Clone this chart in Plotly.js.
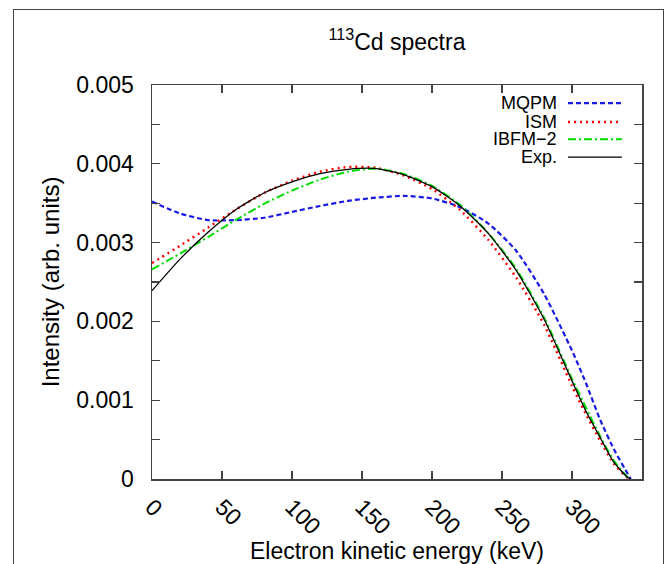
<!DOCTYPE html>
<html>
<head>
<meta charset="utf-8">
<script src="https://cdn.plot.ly/plotly-3.0.1.min.js"></script>
<style>
  html, body { margin: 0; padding: 0; background: #fff; }
  #wrap { position: relative; width: 670px; height: 564px; overflow: hidden; }
  #chart { width: 670px; height: 564px; }
  #frame { position: absolute; left: 13px; top: 9px; width: 651px; height: 600px;
           border: 1.5px solid #444; pointer-events: none; box-sizing: border-box; }
</style>
</head>
<body>
<div id="wrap">
  <div id="chart"></div>
  <div id="frame"></div>
</div>
<script>
// Electron kinetic energy (keV)
const energy = [0, 20, 40, 60, 80, 100, 120, 140, 160, 180, 200, 220, 240, 260, 280, 300, 310, 320, 330, 340, 342];
// Intensities (arb. units), in units of 1e-3
const mqpm  = [3.52, 3.37, 3.285, 3.285, 3.315, 3.39, 3.465, 3.53, 3.57, 3.593, 3.56, 3.45, 3.245, 2.90, 2.35, 1.63, 1.215, 0.757, 0.374, 0.06, 0.0];
const ism   = [2.74, 2.96, 3.19, 3.42, 3.63, 3.785, 3.90, 3.96, 3.95, 3.85, 3.68, 3.415, 3.04, 2.56, 1.96, 1.18, 0.82, 0.49, 0.19, 0.01, 0.0];
const ibfm2 = [2.66, 2.86, 3.07, 3.29, 3.49, 3.66, 3.80, 3.90, 3.94, 3.87, 3.72, 3.48, 3.125, 2.67, 2.05, 1.27, 0.905, 0.545, 0.23, 0.02, 0.0];
const expt  = [2.39, 2.79, 3.13, 3.42, 3.63, 3.77, 3.875, 3.93, 3.94, 3.86, 3.71, 3.465, 3.12, 2.65, 2.03, 1.245, 0.86, 0.53, 0.21, 0.015, 0.0];
const seriesNames = ["MQPM", "ISM", "IBFM\u22122", "Exp."];
const xTicks = [0, 50, 100, 150, 200, 250, 300];
const yTicks = [0, 0.001, 0.002, 0.003, 0.004, 0.005];
const yTickText = ['0', '0.001', '0.002', '0.003', '0.004', '0.005'];

const scale = v => v.map(d => d * 1e-3);
const FONT = '"Liberation Sans", Arial, Helvetica, sans-serif';

const styles = [
  {color: '#1a1ae6', width: 2.2, dash: '5px,3px'},
  {color: '#ff0000', width: 2.4, dash: '2px,4px'},
  {color: '#00dd00', width: 2.0, dash: '8px,3px,2px,3px'},
  {color: '#000000', width: 1.3, dash: 'solid'}
];
const data = [mqpm, ism, ibfm2, expt].map((vals, i) => ({
  x: energy, y: scale(vals), type: 'scatter', mode: 'lines',
  name: seriesNames[i], showlegend: false,
  line: {color: styles[i].color, width: styles[i].width, dash: styles[i].dash, shape: 'spline', smoothing: 0.6}
}));

// custom legend: text right-aligned, line sample to the right
const legendY = [0.954, 0.906, 0.862, 0.817];
const annotations = seriesNames.map((n, i) => ({
  xref: 'paper', yref: 'paper', x: 0.831, y: legendY[i], xanchor: 'right', yanchor: 'middle',
  text: n, showarrow: false, font: {family: FONT, size: 18, color: '#000'}
}));
const shapes = seriesNames.map((n, i) => ({
  type: 'line', xref: 'paper', yref: 'paper', x0: 0.849, x1: 0.959, y0: legendY[i], y1: legendY[i],
  line: {color: styles[i].color, width: styles[i].width, dash: styles[i].dash}
}));

const layout = {
  width: 670, height: 564,
  margin: {l: 152, r: 28, t: 85, b: 85},
  paper_bgcolor: '#fff', plot_bgcolor: '#fff',
  font: {family: FONT, color: '#000'},
  title: {text: '<sup>113</sup>Cd spectra', x: 0.5, xref: 'paper', xanchor: 'center',
          y: 0.926, yref: 'container', yanchor: 'middle', font: {family: FONT, size: 23, color: '#000'}},
  xaxis: {
    range: [0, 350], tickvals: xTicks, ticktext: xTicks.map(String),
    ticks: 'inside', ticklen: 8, tickwidth: 1.2, tickcolor: '#444',
    showline: true, linecolor: '#444', linewidth: 1.5, mirror: 'allticks',
    showgrid: false, zeroline: false, tickangle: 45,
    tickfont: {family: FONT, size: 23, color: '#000'}, ticklabelstandoff: 4,
    title: {text: 'Electron kinetic energy (keV)', font: {family: FONT, size: 23, color: '#000'}, standoff: 10},
    automargin: false
  },
  yaxis: {
    range: [0, 0.005], tickvals: yTicks, ticktext: yTickText,
    ticks: 'inside', ticklen: 8, tickwidth: 1.2, tickcolor: '#444',
    minor: {dtick: 0.0005, ticks: 'inside', ticklen: 8, tickwidth: 1.2, tickcolor: '#444', showgrid: false},
    showline: true, linecolor: '#444', linewidth: 1.5, mirror: 'allticks',
    showgrid: false, zeroline: false,
    tickfont: {family: FONT, size: 23, color: '#000'}, ticklabelstandoff: 12,
    title: {text: 'Intensity (arb. units)', font: {family: FONT, size: 24, color: '#000'}, standoff: 10},
    automargin: false
  },
  annotations: annotations,
  shapes: shapes
};

Plotly.newPlot('chart', data, layout, {displayModeBar: false, staticPlot: true});
</script>
</body>
</html>
